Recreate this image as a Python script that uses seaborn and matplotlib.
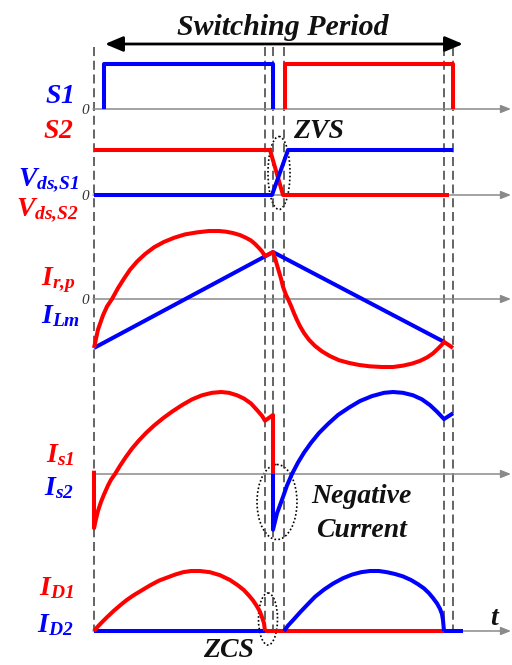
import numpy as np
import pandas as pd
import matplotlib
matplotlib.use("Agg")
import matplotlib.pyplot as plt
from matplotlib.patches import Ellipse
import seaborn as sns

# ---------------------------------------------------------------
# Waveform data.  Time axis is the phase within one switching
# period in degrees; amplitudes are normalised per trace group.
# ---------------------------------------------------------------
RED = "#FF0000"
BLUE = "#0000FF"

# transition instants (deg) marked by the dashed guide lines
event_phase = [0, 171, 179, 190, 350, 359]

# gate signals
s1_t = [10, 10, 179, 179]
s1_v = [0, 1, 1, 0]
s2_t = [191, 191, 359, 359]
s2_v = [0, 1, 1, 0]

# drain-source voltages
vds_s2_t = [0, 176, 189, 355]
vds_s2_v = [1, 1, 0, 0]
vds_s1_t = [0, 178, 194, 359]
vds_s1_v = [0, 0, 1, 1]

# primary resonant current
irp_t = [0, 4, 9, 13, 18, 24, 30, 36, 43, 51, 60, 70, 80, 91, 103, 115,
         125, 132, 139, 146, 152, 157, 161, 165, 168, 171,
         179, 181, 184, 187, 189, 192, 194, 197, 200, 203, 206, 210, 215,
         221, 228, 236, 245, 255, 265, 276, 288, 299, 309, 318, 326, 333,
         339, 344, 348, 350, 359]
irp_v = [-0.72, -0.45, -0.24, -0.11, 0.00, 0.16, 0.30, 0.43, 0.55, 0.66,
         0.76, 0.84, 0.90, 0.95, 0.98, 1.00, 1.00, 0.99, 0.97, 0.94, 0.90,
         0.86, 0.81, 0.75, 0.70, 0.63,
         0.69, 0.60, 0.45, 0.30, 0.18, 0.06, 0.00, -0.10, -0.21, -0.31,
         -0.40, -0.50, -0.60, -0.69, -0.77, -0.84, -0.90, -0.94, -0.97,
         -0.99, -1.00, -1.00, -0.98, -0.95, -0.91, -0.86, -0.80, -0.73,
         -0.67, -0.63, -0.72]

# magnetising current
ilm_t = [0, 179, 350]
ilm_v = [-0.72, 0.69, -0.63]

# switch currents
is1_t = [0, 0, 2, 4, 7, 10, 14, 17, 21, 26, 32, 38, 45, 52, 60, 69, 78,
         88, 98, 108, 118, 127, 135, 143, 150, 157, 163, 168, 171, 179, 179]
is1_v = [0.04, -0.66, -0.55, -0.45, -0.34, -0.25, -0.14, -0.07, 0.00, 0.10,
         0.21, 0.31, 0.41, 0.50, 0.59, 0.68, 0.76, 0.84, 0.91, 0.96, 0.99,
         1.00, 0.99, 0.96, 0.92, 0.86, 0.78, 0.71, 0.65, 0.72, 0.00]
is2_t = [179, 179, 181, 183, 186, 189, 193, 198, 204, 210, 217, 225, 234,
         244, 255, 266, 278, 290, 299, 309, 319, 328, 336, 343, 350, 359]
is2_v = [0.00, -0.68, -0.58, -0.48, -0.38, -0.28, -0.14, 0.00, 0.14, 0.26,
         0.38, 0.50, 0.61, 0.72, 0.81, 0.89, 0.95, 0.99, 1.00, 0.99, 0.96,
         0.91, 0.84, 0.76, 0.67, 0.74]

# output diode currents
id1_t = [0, 3, 7, 13, 20, 27, 33, 40, 48, 56, 65, 73, 81, 89, 97, 106, 116,
         126, 136, 144, 150, 155, 159, 163, 166, 168, 170, 171]
id1_v = [0.00, 0.06, 0.13, 0.23, 0.34, 0.44, 0.52, 0.60, 0.68, 0.76, 0.84,
         0.89, 0.94, 0.98, 1.00, 1.00, 0.98, 0.93, 0.85, 0.76, 0.68, 0.59,
         0.51, 0.41, 0.32, 0.23, 0.13, 0.00]
id1_off_t = [171, 350]
id1_off_v = [0, 0]
id2_t = [190, 194, 199, 206, 214, 221, 230, 239, 249, 258, 267, 276, 285,
         293, 301, 309, 317, 324, 330, 335, 339, 343, 346, 348, 349, 350]
id2_v = [0.00, 0.09, 0.18, 0.31, 0.45, 0.57, 0.69, 0.79, 0.88, 0.94, 0.98,
         1.00, 1.00, 0.98, 0.95, 0.91, 0.85, 0.78, 0.71, 0.63, 0.55, 0.46,
         0.37, 0.28, 0.18, 0.00]
id2_off_t = [0, 171]
id2_off_v = [0, 0]
id2_tail_t = [350, 369]
id2_tail_v = [0, 0]

# ---------------------------------------------------------------
# Figure set-up
# ---------------------------------------------------------------
sns.set_theme(style="white")
plt.rcParams["font.family"] = ["Liberation Serif", "DejaVu Serif"]
plt.rcParams["mathtext.fontset"] = "custom"
for key in ("mathtext.it", "mathtext.rm", "mathtext.bf"):
    plt.rcParams[key] = "Liberation Serif:style=italic:weight=bold"
plt.rcParams["lines.scale_dashes"] = False

W, H = 512, 665
fig = plt.figure(figsize=(W / 100, H / 100), dpi=100)
XLIM = (-94, 418)

# background canvas for guides and annotations (y runs downward)
bg = fig.add_axes([0, 0, 1, 1])
bg.set_xlim(*XLIM)
bg.set_ylim(H, 0)
bg.axis("off")

# vertical stacking of the trace groups: (zero line, pixels per unit)
panels = {
    "gate": (109, 45),
    "vds": (195, 45),
    "ir": (299, 68),
    "is": (474, 82),
    "id": (631, 60),
}


def panel_axes(name):
    base, scale = panels[name]
    ax = fig.add_axes([0, 0, 1, 1])
    ax.patch.set_alpha(0)
    ax.set_xlim(*XLIM)
    ax.set_ylim((base - H) / scale, base / scale)
    ax.axis("off")
    return ax


# dashed timing guides
bg.vlines(event_phase, 47, 631, colors="#3a3a3a", linewidth=1.1,
          linestyles=[(0, (6.5, 3.4))])

# zero axes with arrowheads
for name, (base, scale) in panels.items():
    bg.annotate("", xy=(XLIM[1] - 1, base), xytext=(-1, base),
                arrowprops=dict(arrowstyle="-|>,head_length=0.5,head_width=0.2",
                                color="#8a8a8a", lw=1.1, shrinkA=0, shrinkB=0))

# switching period arrow and title
bg.annotate("", xy=(369, 44), xytext=(11, 44),
            arrowprops=dict(arrowstyle="<|-|>,head_length=0.9,head_width=0.38",
                            color="black", lw=2.0, shrinkA=0, shrinkB=0))
bg.text(189, 35, "Switching Period", ha="center", va="baseline",
        fontsize=21.5, fontweight="bold", fontstyle="italic", color="#111111")


def trace(ax, t, v, color):
    sns.lineplot(x=t, y=v, ax=ax, color=color, linewidth=2.9, sort=False,
                 estimator=None, legend=False, solid_joinstyle="round",
                 solid_capstyle="butt")


ax = panel_axes("gate")
trace(ax, s1_t, s1_v, BLUE)
trace(ax, s2_t, s2_v, RED)

ax = panel_axes("vds")
trace(ax, vds_s2_t, vds_s2_v, RED)
trace(ax, vds_s1_t, vds_s1_v, BLUE)

ax = panel_axes("ir")
trace(ax, ilm_t, ilm_v, BLUE)
trace(ax, irp_t, irp_v, RED)

ax = panel_axes("is")
trace(ax, is1_t, is1_v, RED)
trace(ax, is2_t, is2_v, BLUE)

ax = panel_axes("id")
trace(ax, id2_off_t, id2_off_v, BLUE)
trace(ax, id1_t, id1_v, RED)
trace(ax, id1_off_t, id1_off_v, RED)
trace(ax, id2_t, id2_v, BLUE)
trace(ax, id2_tail_t, id2_tail_v, BLUE)

# signal names on the left
lab = dict(ha="right", va="baseline", fontsize=20)
bg.text(-20, 103, r"$S1$", color=BLUE, **lab)
bg.text(-20, 138, r"$S2$", color=RED, **lab)
bg.text(-15, 185, r"$V_{ds{,}S1}$", color=BLUE, **lab)
bg.text(-15, 215, r"$V_{ds{,}S2}$", color=RED, **lab)
bg.text(-18, 285, r"$I_{r{,}p}$", color=RED, **lab)
bg.text(-14, 323, r"$I_{Lm}$", color=BLUE, **lab)
bg.text(-20, 462, r"$I_{s1}$", color=RED, **lab)
bg.text(-20, 495, r"$I_{s2}$", color=BLUE, **lab)
bg.text(-20, 595, r"$I_{D1}$", color=RED, **lab)
bg.text(-21, 632, r"$I_{D2}$", color=BLUE, **lab)

# zero markers
for name in ("gate", "vds", "ir"):
    base = panels[name][0]
    bg.text(-5, base + 5, "0", ha="right", va="baseline", fontsize=11,
            fontstyle="italic", color="#333333")

# annotations
ann = dict(va="baseline", fontsize=20, fontweight="bold", fontstyle="italic",
           color="#111111")
bg.text(199, 138, "ZVS", ha="left", **ann)
bg.text(267, 503, "Negative", ha="center", **ann)
bg.text(267, 537, "Current", ha="center", **ann)
bg.text(109, 657, "ZCS", ha="left", **ann)
bg.text(396, 625, "t", ha="left", **ann)

for cx, cy, w, h in [(185, 173, 22, 73), (183, 502, 40, 75), (174, 619, 19, 52)]:
    bg.add_patch(Ellipse((cx, cy), w, h, fill=False, edgecolor="black",
                         linestyle=(0, (1.2, 1.6)), linewidth=1.2))

fig.savefig("out.png", dpi=100)
